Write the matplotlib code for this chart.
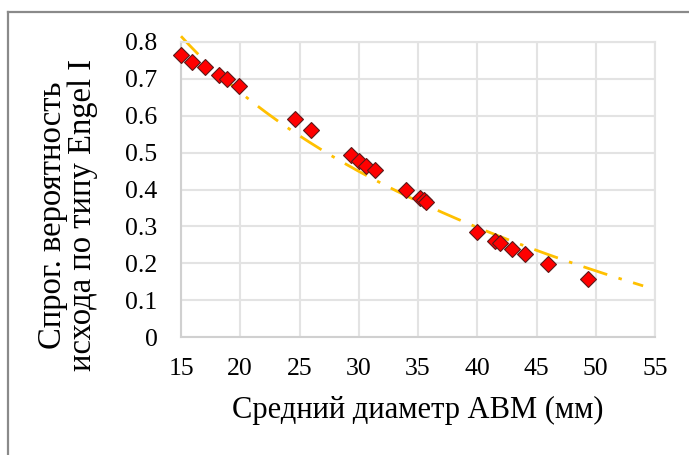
import numpy as np
import matplotlib
matplotlib.use("Agg")
import matplotlib.pyplot as plt
from matplotlib.lines import Line2D

plt.rcParams['font.family'] = ['Liberation Serif', 'DejaVu Serif']
plt.rcParams['lines.scale_dashes'] = False

# Mean AVM diameter (mm) and predicted probability of Engel I outcome
diameter = [15.0, 15.96, 17.0, 18.2, 18.85, 19.9, 24.6, 26.0,
            29.35, 30.05, 30.6, 31.35, 33.97, 35.15, 35.5, 35.7,
            39.94, 41.5, 41.95, 42.96, 44.0, 45.97, 49.35]
probability = [0.765, 0.747, 0.733, 0.71, 0.70, 0.68, 0.59, 0.561,
               0.494, 0.478, 0.464, 0.453, 0.399, 0.376, 0.372, 0.367,
               0.286, 0.261, 0.256, 0.238, 0.224, 0.197, 0.157]

x_ticks = [15, 20, 25, 30, 35, 40, 45, 50, 55]
y_ticks = [0, 0.1, 0.2, 0.3, 0.4, 0.5, 0.6, 0.7, 0.8]
y_tick_labels = ['0', '0.1', '0.2', '0.3', '0.4', '0.5', '0.6', '0.7', '0.8']
trend_range = (15, 54)

x_label = 'Средний диаметр АВМ (мм)'
y_label = 'Спрог. вероятность\nисхода по типу Engel I'

W, H = 689, 455
fig = plt.figure(figsize=(W / 100, H / 100), dpi=100)
ax = fig.add_axes([181 / W, 1 - 337 / H, (655 - 181) / W, (337 - 42) / H])

# logarithmic trend line fitted to the points
b, a = np.polyfit(np.log(diameter), probability, 1)
xt = np.linspace(trend_range[0], trend_range[1], 300)
trend, = ax.plot(xt, a + b * np.log(xt), color='#FFC000', lw=2.0,
                 solid_capstyle='butt', dash_capstyle='butt', zorder=2,
                 clip_on=False)
trend.set_dashes([18, 8.5, 2.5, 8.5])

ax.plot(diameter, probability, linestyle='none', marker='D', markersize=8.6,
        markerfacecolor='#FF0000', markeredgecolor='#5a1a1a',
        markeredgewidth=0.8, zorder=3, clip_on=False)

ax.set_xlim(15, 55)
ax.set_ylim(0, 0.8)
ax.set_xticks(x_ticks)
ax.set_yticks(y_ticks)
ax.set_yticklabels(y_tick_labels)
ax.tick_params(length=0, labelsize=18.5, colors='#000000')
ax.tick_params(axis='y', pad=17)
ax.tick_params(axis='x', pad=15)
ax.grid(True, color='#e3e3e3', lw=1.5, zorder=0)
ax.set_axisbelow(True)
for side in ['top', 'right']:
    ax.spines[side].set_color('#e3e3e3')
    ax.spines[side].set_linewidth(1.5)
for side in ['left', 'bottom']:
    ax.spines[side].set_color('#d0d0d0')
    ax.spines[side].set_linewidth(1.5)

fig.text(418 / W, 1 - 410 / H, x_label, ha='center', va='center', fontsize=22)
fig.text(68 / W, 1 - 215 / H, y_label, ha='center', va='center', rotation=90,
         fontsize=23.5, linespacing=0.98, multialignment='center')

# frame around the chart area
fig.add_artist(Line2D([7.5 / W, 1], [1 - 11.5 / H, 1 - 11.5 / H],
                      color='#8a8a8a', lw=1.6, transform=fig.transFigure))
fig.add_artist(Line2D([7.5 / W, 7.5 / W], [0, 1 - 11.5 / H],
                      color='#8a8a8a', lw=1.6, transform=fig.transFigure))

fig.savefig('out.png', dpi=100)
